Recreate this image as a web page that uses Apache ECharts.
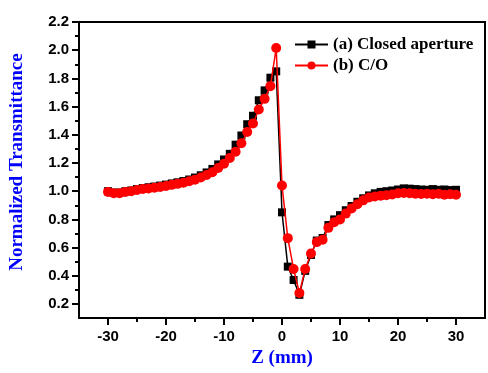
<!DOCTYPE html>
<html>
<head>
<meta charset="utf-8">
<script src="https://cdn.jsdelivr.net/npm/echarts@6/dist/echarts.min.js"></script>
<style>
  html, body { margin: 0; padding: 0; background: #fff; }
  #chart { width: 488px; height: 373px; }
</style>
</head>
<body>
<div id="chart"></div>
<script>
// Sample position along the beam axis (mm)
const zPositions = [
  -30, -29, -28, -27, -26, -25, -24, -23, -22, -21,
  -20, -19, -18, -17, -16, -15, -14, -13, -12, -11,
  -10, -9, -8, -7, -6, -5, -4, -3, -2, -1,
  0, 1, 2, 3, 4, 5, 6, 7, 8, 9,
  10, 11, 12, 13, 14, 15, 16, 17, 18, 19,
  20, 21, 22, 23, 24, 25, 26, 27, 28, 29, 30
];

// (a) Closed aperture normalized transmittance
const closedAperture = [
  1.000, 0.990, 0.990, 1.000, 1.005, 1.015, 1.022, 1.028, 1.033, 1.040,
  1.047, 1.055, 1.063, 1.072, 1.083, 1.097, 1.113, 1.133, 1.158, 1.190,
  1.225, 1.265, 1.330, 1.395, 1.475, 1.535, 1.645, 1.715, 1.805, 1.850,
  0.850, 0.465, 0.370, 0.265, 0.435, 0.548, 0.650, 0.668, 0.760, 0.800,
  0.830, 0.865, 0.895, 0.925, 0.950, 0.970, 0.985, 0.995, 1.000, 1.005,
  1.012, 1.020, 1.018, 1.015, 1.012, 1.010, 1.015, 1.010, 1.012, 1.008, 1.010
];

// (b) Closed / open aperture ratio
const closedOverOpen = [
  0.995, 0.985, 0.985, 0.995, 1.000, 1.008, 1.015, 1.020, 1.025, 1.030,
  1.037, 1.045, 1.052, 1.060, 1.070, 1.082, 1.097, 1.115, 1.135, 1.165,
  1.195, 1.235, 1.280, 1.340, 1.420, 1.480, 1.580, 1.655, 1.745, 2.015,
  1.040, 0.667, 0.448, 0.278, 0.448, 0.558, 0.639, 0.656, 0.740, 0.780,
  0.800, 0.841, 0.878, 0.908, 0.935, 0.955, 0.963, 0.968, 0.972, 0.977,
  0.985, 0.987, 0.985, 0.982, 0.980, 0.982, 0.978, 0.982, 0.975, 0.978, 0.975
];

const seriesNames = ['(a) Closed aperture', '(b) C/O'];

// Tick positions
const xMajorTicks = [-30, -20, -10, 0, 10, 20, 30];
const xMinorTicks = [-25, -15, -5, 5, 15, 25];
const yMajorTicks = [0.2, 0.4, 0.6, 0.8, 1.0, 1.2, 1.4, 1.6, 1.8, 2.0, 2.2];
const yMinorTicks = [0.3, 0.5, 0.7, 0.9, 1.1, 1.3, 1.5, 1.7, 1.9, 2.1];

const pairs = (ys) => zPositions.map((z, i) => [z, ys[i]]);

const tickFont = {
  fontFamily: '"Liberation Sans", Arial, sans-serif',
  fontWeight: 'bold',
  fontSize: 15,
  color: '#000'
};
const titleFont = {
  fontFamily: '"Liberation Serif", "Times New Roman", serif',
  fontWeight: 'bold',
  fontSize: 19,
  color: '#0000ff'
};
const axisLine = { show: true, onZero: false, lineStyle: { color: '#000', width: 2 } };

const chart = echarts.init(document.getElementById('chart'), null, { renderer: 'canvas' });

chart.setOption({
  animation: false,
  backgroundColor: '#fff',
  grid: {
    left: 76, right: 3, top: 22, bottom: 48,
    show: true, borderColor: '#000', borderWidth: 2, backgroundColor: 'transparent'
  },
  legend: {
    data: seriesNames,
    orient: 'vertical',
    left: 289,
    top: 31,
    itemWidth: 33,
    itemHeight: 10,
    itemGap: 4,
    textStyle: {
      fontFamily: '"Liberation Serif", "Times New Roman", serif',
      fontWeight: 'bold',
      fontSize: 17,
      color: '#000'
    }
  },
  xAxis: [
    {
      type: 'value', min: -35, max: 35, position: 'bottom',
      name: 'Z (mm)', nameLocation: 'middle', nameGap: 29, nameTextStyle: titleFont,
      axisLine: axisLine,
      axisTick: { show: true, inside: false, length: 7, lineStyle: { width: 2, color: '#000' }, customValues: xMajorTicks },
      axisLabel: Object.assign({ margin: 11, customValues: xMajorTicks }, tickFont),
      splitLine: { show: false }
    },
    {
      type: 'value', min: -35, max: 35, position: 'bottom',
      axisLine: axisLine,
      axisTick: { show: true, inside: false, length: 4, lineStyle: { width: 2, color: '#000' }, customValues: xMinorTicks },
      axisLabel: { show: false },
      splitLine: { show: false }
    }
  ],
  yAxis: [
    {
      type: 'value', min: 0.1, max: 2.2, position: 'left',
      name: 'Normalized Transmittance', nameLocation: 'middle', nameGap: 52,
      nameTextStyle: Object.assign({ padding: [0, 0, 0, 16] }, titleFont),
      axisLine: axisLine,
      axisTick: { show: true, inside: false, length: 7, lineStyle: { width: 2, color: '#000' }, customValues: yMajorTicks },
      axisLabel: Object.assign({ margin: 10, customValues: yMajorTicks, formatter: (v) => v.toFixed(1) }, tickFont),
      splitLine: { show: false }
    },
    {
      type: 'value', min: 0.1, max: 2.2, position: 'left',
      axisLine: axisLine,
      axisTick: { show: true, inside: false, length: 4, lineStyle: { width: 2, color: '#000' }, customValues: yMinorTicks },
      axisLabel: { show: false },
      splitLine: { show: false }
    }
  ],
  series: [
    {
      name: seriesNames[0],
      type: 'line',
      xAxisIndex: 0, yAxisIndex: 0,
      data: pairs(closedAperture),
      symbol: 'rect',
      symbolSize: 8,
      showAllSymbol: true,
      lineStyle: { color: '#000', width: 1.5 },
      itemStyle: { color: '#000' },
      z: 2
    },
    {
      name: seriesNames[1],
      type: 'line',
      xAxisIndex: 0, yAxisIndex: 0,
      data: pairs(closedOverOpen),
      symbol: 'circle',
      symbolSize: 10,
      showAllSymbol: true,
      lineStyle: { color: '#ff0000', width: 1.5 },
      itemStyle: { color: '#ff0000' },
      z: 3
    }
  ]
});
</script>
</body>
</html>
